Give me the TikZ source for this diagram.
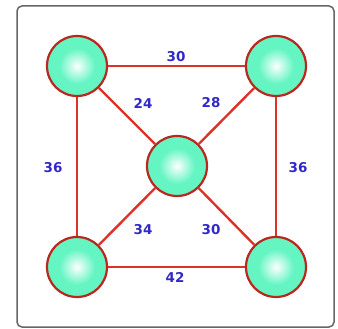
\documentclass[tikz,border=0pt]{standalone}
\usepackage{fontspec}
\setsansfont{DejaVu Sans}
\usepackage{xcolor}
\usetikzlibrary{positioning}
\definecolor{edgered}{RGB}{220,50,40}
\definecolor{rimred}{RGB}{185,40,30}
\definecolor{nodegreen}{RGB}{100,245,195}
\definecolor{labelblue}{RGB}{50,40,200}
\pgfdeclareradialshading{nodeglow}{\pgfpoint{0bp}{0bp}}{%
  color(0bp)=(white); color(5bp)=(white!65!nodegreen);
  color(15bp)=(nodegreen); color(25bp)=(nodegreen); color(50bp)=(nodegreen)}

\begin{document}
\begin{tikzpicture}[x=1pt, y=-1pt,
    every node/.style={font=\sffamily\bfseries\fontsize{13.5}{13.5}\selectfont},
    vertex/.style={circle, draw=rimred, line width=2.2pt, minimum size=60pt,
      shading=nodeglow},
    wlabel/.style={text=labelblue},
    link/.style={draw=edgered, line width=2.4pt}]
    \useasboundingbox (0,0) rectangle (338,329);
    \draw[gray!80!black, line width=1.5pt, rounded corners=5pt] (17,6) rectangle (334,327);

    \node[vertex] (tl) at (77,66) {};
    \node[vertex] (tr) at (276,66) {};
    \node[vertex] (mid) at (177,166) {};
    \node[vertex] (bl) at (77,267) {};
    \node[vertex] (br) at (276,267) {};

    \draw[link] (tl) -- (tr);
    \draw[link] (bl) -- (br);
    \draw[link] (tl) -- (bl);
    \draw[link] (tr) -- (br);
    \draw[link] (tl) -- (mid);
    \draw[link] (tr) -- (mid);
    \draw[link] (bl) -- (mid);
    \draw[link] (br) -- (mid);

    \node[wlabel] (w1) at (176,57) {30};
    \node[wlabel] (w2) at (143,103) {24};
    \node[wlabel] (w3) at (211,103) {28};
    \node[wlabel] (w4) at (53,168) {36};
    \node[wlabel] (w5) at (298,168) {36};
    \node[wlabel] (w6) at (143,230) {34};
    \node[wlabel] (w7) at (211,230) {30};
    \node[wlabel] (w8) at (175,277) {42};
  \end{tikzpicture}
\end{document}
